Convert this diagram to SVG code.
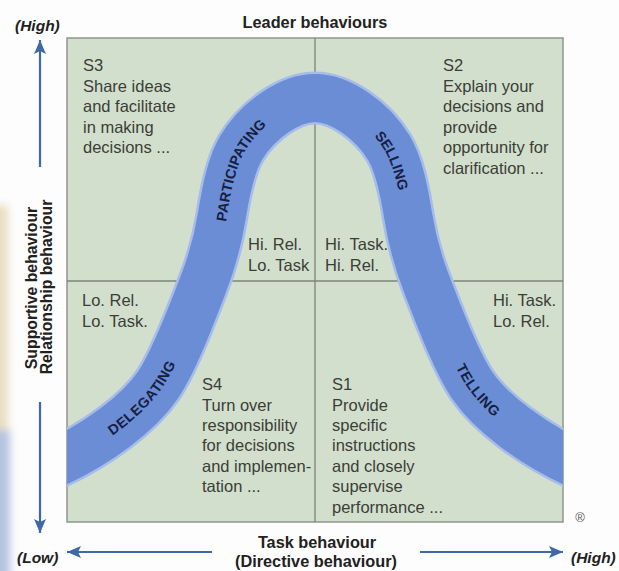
<svg xmlns="http://www.w3.org/2000/svg" xmlns:xlink="http://www.w3.org/1999/xlink" width="619" height="571" viewBox="0 0 619 571">
  <style>
    .body { font-family: "Liberation Sans", Arial, Helvetica, sans-serif; font-size: 16.5px; fill: #3a3e37; }
    .axis { font-family: "Liberation Sans", Arial, Helvetica, sans-serif; font-size: 16.3px; font-weight: bold; fill: #1f2220; }
    .side { font-family: "Liberation Sans", Arial, Helvetica, sans-serif; font-size: 15.8px; font-weight: bold; fill: #1f2220; }
    .end { font-family: "Liberation Sans", Arial, Helvetica, sans-serif; font-size: 15.5px; font-weight: bold; font-style: italic; fill: #1f2220; }
    .band-lbl { font-family: "Liberation Sans", Arial, Helvetica, sans-serif; font-size: 14.2px; font-weight: bold; fill: #17203f; letter-spacing: 0.3px; }
    .arrow { stroke: #3f68a6; stroke-width: 2.2; fill: none; }
    .divider { stroke: #7b8479; stroke-width: 1.3; }
  </style>
  <defs>
    <marker id="ah" viewBox="0 0 14 12" refX="14" refY="6" markerWidth="14" markerHeight="12" orient="auto" markerUnits="userSpaceOnUse">
      <path d="M0,0 L14,6 L0,12 L3,6 Z" fill="#3f68a6"/>
    </marker>
    <clipPath id="boxClip">
      <rect x="67" y="38" width="496" height="484"/>
    </clipPath>
    <filter id="soft" x="-50%" y="-50%" width="200%" height="200%">
      <feGaussianBlur stdDeviation="4"/>
    </filter>
    <!-- centre line of the leadership-style band, left to right -->
    <path id="bandPath" d="M40,470 C100,445 141,410 158,385 C175,360 194,308 203,285 C212,262 218,240 222,215 C226,190 231,165 241,148 C258,120 290,98 315,98 C340,98 372,120 389,148 C399,165 404,190 408,215 C412,240 418,262 427,285 C436,308 455,360 472,385 C489,410 530,445 590,470"/>
  </defs>

  <!-- page background -->
  <rect x="0" y="0" width="619" height="571" fill="#fdfdfd"/>
  <g id="page-edge" filter="url(#soft)">
    <rect x="-10" y="205" width="18" height="225" fill="#e6d6b2" opacity="0.8"/>
    <rect x="-10" y="430" width="20" height="150" fill="#b3c3df"/>
  </g>

  <!-- quadrant field -->
  <g id="grid">
    <rect x="67" y="38" width="496" height="484" fill="#d3dfcd" stroke="#8e978b" stroke-width="1.5"/>
    <line class="divider" x1="315" y1="38" x2="315" y2="522"/>
    <line class="divider" x1="67" y1="281" x2="563" y2="281"/>
  </g>

  <!-- style curve band -->
  <g id="band" clip-path="url(#boxClip)">
    <use xlink:href="#bandPath" href="#bandPath" fill="none" stroke="#a6bce9" stroke-width="53"/>
    <use xlink:href="#bandPath" href="#bandPath" fill="none" stroke="#6a8dd6" stroke-width="48"/>
    <text class="band-lbl"><textPath xlink:href="#bandPath" href="#bandPath" startOffset="127" text-anchor="middle"><tspan dy="5">DELEGATING</tspan></textPath></text>
    <text class="band-lbl"><textPath xlink:href="#bandPath" href="#bandPath" startOffset="379" text-anchor="middle"><tspan dy="5">PARTICIPATING</tspan></textPath></text>
    <text class="band-lbl"><textPath xlink:href="#bandPath" href="#bandPath" startOffset="598" text-anchor="middle"><tspan dy="5">SELLING</tspan></textPath></text>
    <text class="band-lbl"><textPath xlink:href="#bandPath" href="#bandPath" startOffset="845" text-anchor="middle"><tspan dy="5">TELLING</tspan></textPath></text>
  </g>

  <!-- S3: participating -->
  <g id="s3">
    <text class="body" x="83" y="71">S3</text>
    <text class="body" x="83" y="91.5">Share ideas</text>
    <text class="body" x="83" y="112">and facilitate</text>
    <text class="body" x="83" y="132.5">in making</text>
    <text class="body" x="83" y="153">decisions ...</text>
  </g>

  <!-- S2: selling -->
  <g id="s2">
    <text class="body" x="443" y="71">S2</text>
    <text class="body" x="443" y="91.5">Explain your</text>
    <text class="body" x="443" y="112">decisions and</text>
    <text class="body" x="443" y="132.5">provide</text>
    <text class="body" x="443" y="153">opportunity for</text>
    <text class="body" x="443" y="173.5">clarification ...</text>
  </g>

  <!-- S4: delegating -->
  <g id="s4">
    <text class="body" x="202" y="390">S4</text>
    <text class="body" x="202" y="410.5">Turn over</text>
    <text class="body" x="202" y="431">responsibility</text>
    <text class="body" x="202" y="451">for decisions</text>
    <text class="body" x="202" y="471.5">and implemen-</text>
    <text class="body" x="202" y="492">tation ...</text>
  </g>

  <!-- S1: telling -->
  <g id="s1">
    <text class="body" x="332" y="390">S1</text>
    <text class="body" x="332" y="410.5">Provide</text>
    <text class="body" x="332" y="431">specific</text>
    <text class="body" x="332" y="451">instructions</text>
    <text class="body" x="332" y="471.5">and closely</text>
    <text class="body" x="332" y="492">supervise</text>
    <text class="body" x="332" y="512.5">performance ...</text>
  </g>

  <!-- relationship / task levels -->
  <g id="levels">
    <text class="body" x="248" y="250">Hi. Rel.</text>
    <text class="body" x="248" y="270.5">Lo. Task</text>
    <text class="body" x="325" y="250">Hi. Task.</text>
    <text class="body" x="325" y="270.5">Hi. Rel.</text>
    <text class="body" x="82" y="306">Lo. Rel.</text>
    <text class="body" x="82" y="326.5">Lo. Task.</text>
    <text class="body" x="493" y="306">Hi. Task.</text>
    <text class="body" x="493" y="326.5">Lo. Rel.</text>
  </g>

  <!-- axis titles -->
  <g id="titles">
    <text class="axis" x="315" y="28" text-anchor="middle">Leader behaviours</text>
    <text class="axis" x="317" y="548" text-anchor="middle">Task behaviour</text>
    <text class="axis" x="316" y="567" text-anchor="middle">(Directive behaviour)</text>
    <text class="side" transform="translate(36.5,288) rotate(-90)" text-anchor="middle">Supportive behaviour</text>
    <text class="side" transform="translate(52,287) rotate(-90)" text-anchor="middle">Relationship behaviour</text>
    <text class="end" x="15" y="31">(High)</text>
    <text class="end" x="17" y="563">(Low)</text>
    <text class="end" x="571" y="563">(High)</text>
    <text x="580" y="522" text-anchor="middle" font-family="'Liberation Sans', Arial, sans-serif" font-size="13" fill="#555a55">®</text>
  </g>

  <!-- axis arrows -->
  <g id="connectors">
    <line class="arrow" x1="40" y1="167" x2="40" y2="40" marker-end="url(#ah)"/>
    <line class="arrow" x1="40" y1="402" x2="40" y2="533" marker-end="url(#ah)"/>
    <line class="arrow" x1="212" y1="552" x2="67" y2="552" marker-end="url(#ah)"/>
    <line class="arrow" x1="420" y1="552" x2="563" y2="552" marker-end="url(#ah)"/>
  </g>
</svg>
